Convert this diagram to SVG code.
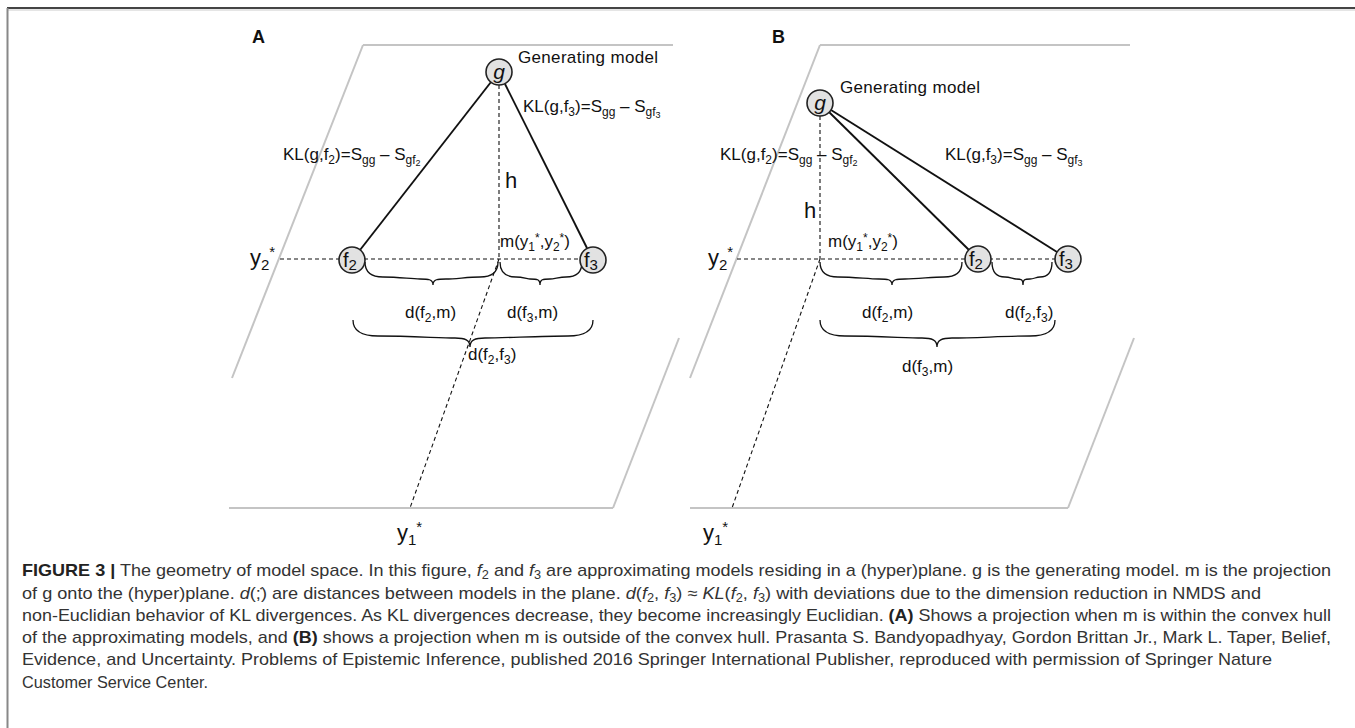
<svg xmlns="http://www.w3.org/2000/svg" width="1355" height="728" viewBox="0 0 1355 728">
<style>
.plane{stroke:#c4c4c4;stroke-width:2;fill:none}
.solid{stroke:#111;stroke-width:1.9;fill:none}
.dash{stroke:#111;stroke-width:1.1;stroke-dasharray:4 3;fill:none}
.brace{stroke:#111;stroke-width:1.3;fill:none}
.node circle{fill:#e2e2e2;stroke:#222;stroke-width:1.6}
text{font-family:"Liberation Sans",Arial,sans-serif;fill:#111}
.lbl{font-size:17px}
.big{font-size:22px}
.nt{font-size:20px}
.pan{font-size:18px;font-weight:bold}
.cap{font-size:17px;fill:#333}
</style>
<rect x="0" y="0" width="1355" height="728" fill="#fff"/>
<line x1="7" y1="8" x2="1355" y2="8" stroke="#444" stroke-width="2"/>
<line x1="7" y1="10" x2="1355" y2="10" stroke="#ccc" stroke-width="1"/>
<line x1="7.5" y1="8" x2="7.5" y2="728" stroke="#888" stroke-width="2"/>

<g id="panelA-plane">
<line class="plane" x1="363" y1="45" x2="673" y2="45"/>
<line class="plane" x1="363" y1="45" x2="232" y2="378"/>
<line class="plane" x1="229" y1="508" x2="613" y2="508"/>
<line class="plane" x1="613" y1="508" x2="679" y2="338"/>
</g>
<g id="panelB-plane">
<line class="plane" x1="820" y1="45" x2="1130" y2="45"/>
<line class="plane" x1="820" y1="45" x2="690" y2="378"/>
<line class="plane" x1="690" y1="508" x2="1068" y2="508"/>
<line class="plane" x1="1068" y1="508" x2="1134" y2="338"/>
</g>

<g id="connectors">
<line class="dash" x1="499" y1="85" x2="499" y2="259"/>
<line class="dash" x1="280" y1="259" x2="580" y2="259"/>
<line class="dash" x1="499" y1="259" x2="410" y2="508"/>
<line class="solid" x1="491" y1="82" x2="360" y2="250"/>
<line class="solid" x1="505" y1="84" x2="587" y2="248"/>
<line class="dash" x1="820" y1="116" x2="820" y2="259"/>
<line class="dash" x1="737" y1="259" x2="1056" y2="259"/>
<line class="dash" x1="820" y1="259" x2="732" y2="508"/>
<line class="solid" x1="829" y1="112" x2="969" y2="250"/>
<line class="solid" x1="831" y1="110" x2="1057" y2="252"/>
</g>

<g id="braces">
<path class="brace" d="M365 262 C365 272 371 277 383 277 C400 277 410 279 420 279 C428 279 433 279 433 285 C433 279 438 279 446 279 C456 279 468 277 480 277 C492 277 498 272 498 262"/>
<path class="brace" d="M500 262 C500 272 506 277 516 277 C522 277 528 279 530 279 C537 279 540 279 540 285 C540 279 543 279 550 279 C554 279 560 277 566 277 C576 277 582 272 582 262"/>
<path class="brace" d="M353 320 C353 331 362 336 378 336 C410 336 440 338 455 338 C465 338 470 340 470 347 C470 340 475 338 485 338 C505 338 540 336 568 336 C584 336 593 331 593 320"/>
<path class="brace" d="M820 262 C820 272 826 277 838 277 C855 277 868 279 879 279 C887 279 892 279 892 285 C892 279 897 279 905 279 C918 279 932 277 944 277 C956 277 962 272 962 262"/>
<path class="brace" d="M992 262 C992 272 997 277 1005 277 C1010 277 1013 279 1016 279 C1021 279 1023 279 1023 285 C1023 279 1025 279 1030 279 C1034 279 1036 277 1040 277 C1048 277 1052 272 1052 262"/>
<path class="brace" d="M820 320 C820 331 829 336 845 336 C877 336 907 338 922 338 C932 338 937 340 937 347 C937 340 942 338 952 338 C975 338 1005 336 1030 336 C1046 336 1055 331 1055 320"/>
</g>

<g id="nodeA-g" class="node"><circle cx="499" cy="72" r="13"/><text x="499" y="79" text-anchor="middle" font-size="21" font-style="italic">g</text></g>
<g id="nodeA-f2" class="node"><circle cx="352" cy="260" r="13"/><text x="343" y="267" class="nt">f<tspan dy="3" font-size="15">2</tspan></text></g>
<g id="nodeA-f3" class="node"><circle cx="593" cy="260" r="13"/><text x="584" y="267" class="nt">f<tspan dy="3" font-size="15">3</tspan></text></g>
<g id="nodeB-g" class="node"><circle cx="820" cy="103" r="13"/><text x="820" y="110" text-anchor="middle" font-size="21" font-style="italic">g</text></g>
<g id="nodeB-f2" class="node"><circle cx="978" cy="259" r="13"/><text x="969" y="266" class="nt">f<tspan dy="3" font-size="15">2</tspan></text></g>
<g id="nodeB-f3" class="node"><circle cx="1068" cy="259" r="13"/><text x="1059" y="266" class="nt">f<tspan dy="3" font-size="15">3</tspan></text></g>

<g id="labelsA">
<text class="pan" x="252" y="43">A</text>
<text class="lbl" x="518" y="63" textLength="140">Generating model</text>
<text class="lbl" x="523" y="112">KL(g,f<tspan dy="4" font-size="12">3</tspan><tspan dy="-4">)=S</tspan><tspan dy="4" font-size="12">gg</tspan><tspan dy="-4"> – S</tspan><tspan dy="4" font-size="12">gf</tspan><tspan dy="2" font-size="9">3</tspan></text>
<text class="lbl" x="283" y="160">KL(g,f<tspan dy="4" font-size="12">2</tspan><tspan dy="-4">)=S</tspan><tspan dy="4" font-size="12">gg</tspan><tspan dy="-4"> – S</tspan><tspan dy="4" font-size="12">gf</tspan><tspan dy="2" font-size="9">2</tspan></text>
<text class="big" x="505" y="188">h</text>
<text class="lbl" x="500" y="247">m(y<tspan dy="4" font-size="12">1</tspan><tspan dy="-9" font-size="12">*</tspan><tspan dy="5">,y</tspan><tspan dy="4" font-size="12">2</tspan><tspan dy="-9" font-size="12">*</tspan><tspan dy="5">)</tspan></text>
<text class="big" x="250" y="265">y<tspan dy="5" font-size="15">2</tspan><tspan dy="-13" font-size="15">*</tspan></text>
<text class="lbl" x="405" y="318">d(f<tspan dy="4" font-size="12">2</tspan><tspan dy="-4">,m)</tspan></text>
<text class="lbl" x="507" y="318">d(f<tspan dy="4" font-size="12">3</tspan><tspan dy="-4">,m)</tspan></text>
<text class="lbl" x="468" y="360">d(f<tspan dy="4" font-size="12">2</tspan><tspan dy="-4">,f</tspan><tspan dy="4" font-size="12">3</tspan><tspan dy="-4">)</tspan></text>
<text class="big" x="397" y="540">y<tspan dy="5" font-size="15">1</tspan><tspan dy="-13" font-size="15">*</tspan></text>
</g>

<g id="labelsB">
<text class="pan" x="772" y="43">B</text>
<text class="lbl" x="840" y="93" textLength="140">Generating model</text>
<text class="lbl" x="720" y="160">KL(g,f<tspan dy="4" font-size="12">2</tspan><tspan dy="-4">)=S</tspan><tspan dy="4" font-size="12">gg</tspan><tspan dy="-4"> – S</tspan><tspan dy="4" font-size="12">gf</tspan><tspan dy="2" font-size="9">2</tspan></text>
<text class="lbl" x="945" y="160">KL(g,f<tspan dy="4" font-size="12">3</tspan><tspan dy="-4">)=S</tspan><tspan dy="4" font-size="12">gg</tspan><tspan dy="-4"> – S</tspan><tspan dy="4" font-size="12">gf</tspan><tspan dy="2" font-size="9">3</tspan></text>
<text class="big" x="804" y="218">h</text>
<text class="lbl" x="828" y="247">m(y<tspan dy="4" font-size="12">1</tspan><tspan dy="-9" font-size="12">*</tspan><tspan dy="5">,y</tspan><tspan dy="4" font-size="12">2</tspan><tspan dy="-9" font-size="12">*</tspan><tspan dy="5">)</tspan></text>
<text class="big" x="708" y="265">y<tspan dy="5" font-size="15">2</tspan><tspan dy="-13" font-size="15">*</tspan></text>
<text class="lbl" x="862" y="318">d(f<tspan dy="4" font-size="12">2</tspan><tspan dy="-4">,m)</tspan></text>
<text class="lbl" x="1005" y="318">d(f<tspan dy="4" font-size="12">2</tspan><tspan dy="-4">,f</tspan><tspan dy="4" font-size="12">3</tspan><tspan dy="-4">)</tspan></text>
<text class="lbl" x="902" y="372">d(f<tspan dy="4" font-size="12">3</tspan><tspan dy="-4">,m)</tspan></text>
<text class="big" x="703" y="540">y<tspan dy="5" font-size="15">1</tspan><tspan dy="-13" font-size="15">*</tspan></text>
</g>

<g id="caption">
<text class="cap" x="22" y="576" textLength="1309" lengthAdjust="spacingAndGlyphs"><tspan font-weight="bold" fill="#222">FIGURE 3 |</tspan> The geometry of model space. In this figure, <tspan font-style="italic">f</tspan><tspan dy="3" font-size="12">2</tspan><tspan dy="-3"> and </tspan><tspan font-style="italic">f</tspan><tspan dy="3" font-size="12">3</tspan><tspan dy="-3"> are approximating models residing in a (hyper)plane. g is the generating model. m is the projection</tspan></text>
<text class="cap" x="22" y="599" textLength="1239" lengthAdjust="spacingAndGlyphs">of g onto the (hyper)plane. <tspan font-style="italic">d</tspan>(;̇) are distances between models in the plane. <tspan font-style="italic">d</tspan>(<tspan font-style="italic">f</tspan><tspan dy="3" font-size="12">2</tspan><tspan dy="-3">, </tspan><tspan font-style="italic">f</tspan><tspan dy="3" font-size="12">3</tspan><tspan dy="-3">) ≈ </tspan><tspan font-style="italic">KL</tspan>(<tspan font-style="italic">f</tspan><tspan dy="3" font-size="12">2</tspan><tspan dy="-3">, </tspan><tspan font-style="italic">f</tspan><tspan dy="3" font-size="12">3</tspan><tspan dy="-3">) with deviations due to the dimension reduction in NMDS and</tspan></text>
<text class="cap" x="22" y="621" textLength="1309" lengthAdjust="spacingAndGlyphs">non-Euclidian behavior of KL divergences. As KL divergences decrease, they become increasingly Euclidian. <tspan font-weight="bold" fill="#222">(A)</tspan> Shows a projection when m is within the convex hull</text>
<text class="cap" x="22" y="643" textLength="1309" lengthAdjust="spacingAndGlyphs">of the approximating models, and <tspan font-weight="bold" fill="#222">(B)</tspan> shows a projection when m is outside of the convex hull. Prasanta S. Bandyopadhyay, Gordon Brittan Jr., Mark L. Taper, Belief,</text>
<text class="cap" x="22" y="665" textLength="1250" lengthAdjust="spacingAndGlyphs">Evidence, and Uncertainty. Problems of Epistemic Inference, published 2016 Springer International Publisher, reproduced with permission of Springer Nature</text>
<text class="cap" x="22" y="688" textLength="186" lengthAdjust="spacingAndGlyphs">Customer Service Center.</text>
</g>
</svg>
